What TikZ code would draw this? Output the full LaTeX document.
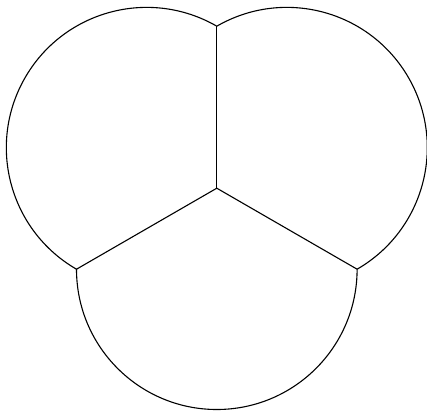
\documentclass[tikz,border=0pt]{standalone}
\begin{document}
\begin{tikzpicture}[x=1pt,y=1pt,
  edge/.style={line width=1.1pt,black,line join=round}]
\useasboundingbox (-216.8,-223.8) rectangle (210.2,188.2);
\coordinate (O) at (0,0);
\coordinate (T) at (90:162);
\coordinate (L) at (210:162);
\coordinate (R) at (330:162);
\draw[edge] (O) -- (T);
\draw[edge] (O) -- (L);
\draw[edge] (O) -- (R);
\draw[edge] (T) arc[start angle=60,end angle=240,radius=140.3];
\draw[edge] (L) arc[start angle=180,end angle=360,radius=140.3];
\draw[edge] (R) arc[start angle=300,end angle=480,radius=140.3];
\end{tikzpicture}
\end{document}
